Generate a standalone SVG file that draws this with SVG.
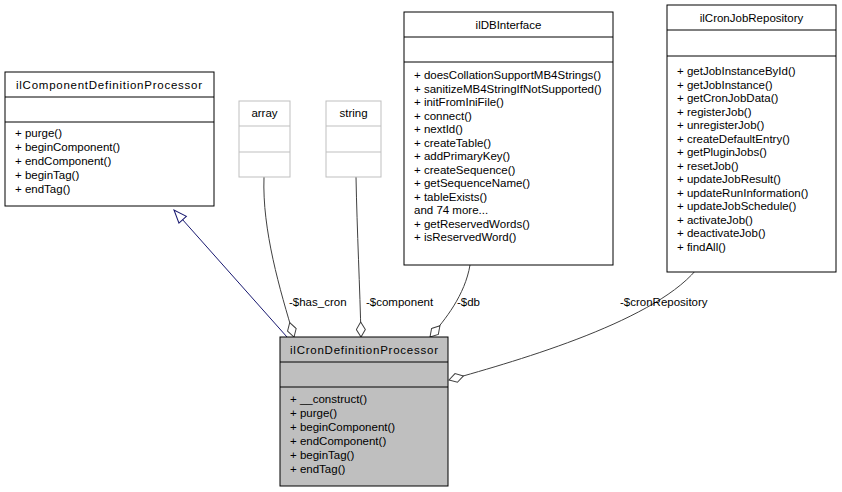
<svg xmlns="http://www.w3.org/2000/svg" width="842" height="492" viewBox="0 0 842 492">
<style>
text{font-family:"Liberation Sans",Arial,sans-serif;font-size:11.5px;fill:#000}
.b{fill:#fff;stroke:#000;stroke-width:1}
.g{fill:#fff;stroke:#bfbfbf;stroke-width:1}
.e{fill:none;stroke:#404040;stroke-width:1}
.c{text-anchor:middle}
</style>
<defs>
<marker id="dia" markerWidth="17" markerHeight="10" refX="16" refY="5" orient="auto" markerUnits="userSpaceOnUse"><path d="M1,5 L8.5,0.5 L16,5 L8.5,9.5 Z" fill="#fff" stroke="#404040"/></marker>
<marker id="tri" markerWidth="15" markerHeight="12" refX="14" refY="6" orient="auto" markerUnits="userSpaceOnUse"><path d="M1,1 L14,6 L1,11 Z" fill="#fff" stroke="#191970"/></marker>
</defs>
<g id="edges">
<path d="M287,337 L174,210" fill="none" stroke="#191970" marker-end="url(#tri)"/>
<path class="e" d="M264,177 C262,230 280,290 294,337" marker-end="url(#dia)"/>
<path class="e" d="M356,177 C357,230 360,290 361,337" marker-end="url(#dia)"/>
<path class="e" d="M470,265 C465,295 445,320 430,337" marker-end="url(#dia)"/>
<path class="e" d="M700,265 C660,320 520,360 449,380" marker-end="url(#dia)"/>
<text x="289" y="306">-$has_cron</text>
<text x="366" y="306">-$component</text>
<text x="457" y="306">-$db</text>
<text x="620" y="306">-$cronRepository</text>
</g>
<g id="ilComponentDefinitionProcessor">
<rect class="b" x="5" y="72" width="209" height="134"/>
<path d="M5,97H214M5,122H214" stroke="#000"/>
<text x="16" y="89" textLength="186">ilComponentDefinitionProcessor</text>
<text x="15" y="137">+ purge()</text>
<text x="15" y="151">+ beginComponent()</text>
<text x="15" y="165">+ endComponent()</text>
<text x="15" y="179">+ beginTag()</text>
<text x="15" y="193">+ endTag()</text>
</g>
<g id="array">
<rect class="g" x="239" y="101" width="51" height="76"/>
<path d="M239,126H290M239,152H290" stroke="#bfbfbf"/>
<text class="c" x="264.5" y="117">array</text>
</g>
<g id="string">
<rect class="g" x="326" y="101" width="55" height="76"/>
<path d="M326,126H381M326,152H381" stroke="#bfbfbf"/>
<text class="c" x="353.5" y="117">string</text>
</g>
<g id="ilDBInterface">
<rect class="b" x="404" y="12" width="209" height="253"/>
<path d="M404,37H613M404,62H613" stroke="#000"/>
<text class="c" x="508.5" y="29">ilDBInterface</text>
<text x="414" y="79">+ doesCollationSupportMB4Strings()</text>
<text x="414" y="92.5">+ sanitizeMB4StringIfNotSupported()</text>
<text x="414" y="106">+ initFromIniFile()</text>
<text x="414" y="119.5">+ connect()</text>
<text x="414" y="133">+ nextId()</text>
<text x="414" y="146.5">+ createTable()</text>
<text x="414" y="160">+ addPrimaryKey()</text>
<text x="414" y="173.5">+ createSequence()</text>
<text x="414" y="187">+ getSequenceName()</text>
<text x="414" y="200.5">+ tableExists()</text>
<text x="414" y="214">and 74 more...</text>
<text x="414" y="227.5">+ getReservedWords()</text>
<text x="414" y="241">+ isReservedWord()</text>
</g>
<g id="ilCronJobRepository">
<rect class="b" x="667" y="5" width="169" height="267"/>
<path d="M667,30H836M667,56H836" stroke="#000"/>
<text class="c" x="751.5" y="22">ilCronJobRepository</text>
<text x="677" y="75">+ getJobInstanceById()</text>
<text x="677" y="88.5">+ getJobInstance()</text>
<text x="677" y="102">+ getCronJobData()</text>
<text x="677" y="115.5">+ registerJob()</text>
<text x="677" y="129">+ unregisterJob()</text>
<text x="677" y="142.5">+ createDefaultEntry()</text>
<text x="677" y="156">+ getPluginJobs()</text>
<text x="677" y="169.5">+ resetJob()</text>
<text x="677" y="183">+ updateJobResult()</text>
<text x="677" y="196.5">+ updateRunInformation()</text>
<text x="677" y="210">+ updateJobSchedule()</text>
<text x="677" y="223.5">+ activateJob()</text>
<text x="677" y="237">+ deactivateJob()</text>
<text x="677" y="250.5">+ findAll()</text>
</g>
<g id="ilCronDefinitionProcessor">
<rect x="280" y="337" width="168" height="149" fill="#bfbfbf" stroke="#000"/>
<path d="M280,362H448M280,387H448" stroke="#000"/>
<text x="290" y="354" textLength="148">ilCronDefinitionProcessor</text>
<text x="290" y="403">+ __construct()</text>
<text x="290" y="417">+ purge()</text>
<text x="290" y="431">+ beginComponent()</text>
<text x="290" y="445">+ endComponent()</text>
<text x="290" y="459">+ beginTag()</text>
<text x="290" y="473">+ endTag()</text>
</g>
</svg>
